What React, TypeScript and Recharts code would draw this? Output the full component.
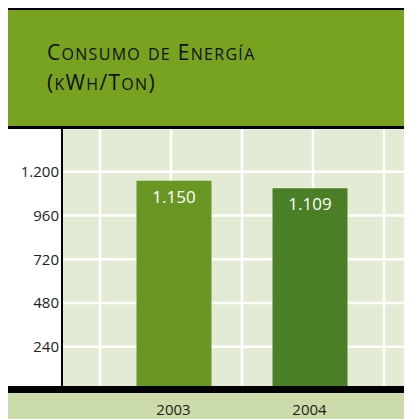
import { BarChart, Bar, XAxis, YAxis, CartesianGrid, Cell, LabelList } from 'recharts';

const years = ['2003', '2004'];
const consumo = [1150, 1109];
const barColors = ['#6a9724', '#4a7f26'];
const yTicks = [240, 480, 720, 960, 1200];

const fmt = (v: number) => String(v).replace(/\B(?=(\d{3})+(?!\d))/g, '.');

// fake small caps: capitals keep the full size, lower case is drawn as smaller capitals
function SmallCaps({ text }: { text: string }) {
  const parts = text.match(/[a-záéíóúñ]+|[^a-záéíóúñ]+/g) || [];
  return (
    <>
      {parts.map((p, i) =>
        /[a-záéíóúñ]/.test(p) ? (
          <span key={i} style={{ fontSize: 16 }}>{p.toUpperCase()}</span>
        ) : (
          <span key={i}>{p}</span>
        )
      )}
    </>
  );
}

export default function App() {
  const data = years.map((year, i) => ({ year, value: consumo[i] }));

  return (
    <div style={{ position: 'relative', width: 404, height: 411, overflow: 'hidden', fontFamily: '"Open Sans", sans-serif' }}>
      {/* label band under the axis */}
      <div style={{ position: 'absolute', left: 0, top: 385, width: 404, height: 26, background: '#cbdbaa' }} />

      <div style={{ position: 'absolute', left: 0, top: 118 }}>
        <BarChart width={404} height={293} data={data} margin={{ top: 2, right: 0, bottom: 0, left: 0 }}>
          <CartesianGrid
            fill="#e3ebd5"
            stroke="#ffffff"
            strokeWidth={2.5}
            verticalCoordinatesGenerator={({ offset }: any) => [0, 1, 2, 3, 4].map((k) => offset.left + 38 + 71 * k)}
          />
          <XAxis
            dataKey="year"
            axisLine={false}
            tickLine={false}
            tickSize={0}
            tickMargin={14}
            height={28.6}
            padding={{ left: 43.5, right: 34.5 }}
            tick={{ fill: '#222', fontSize: 15, fontFamily: '"Open Sans", sans-serif' }}
          />
          <YAxis
            domain={[0, 1440]}
            ticks={yTicks}
            width={54}
            tickFormatter={fmt}
            axisLine={{ stroke: '#000', strokeWidth: 2 }}
            tickLine={false}
            tickSize={0}
            tickMargin={3}
            tick={{ fill: '#222', fontSize: 15, fontFamily: '"Open Sans", sans-serif' }}
          />
          <Bar dataKey="value" barSize={75} isAnimationActive={false}>
            {data.map((d, i) => (
              <Cell key={d.year} fill={barColors[i]} />
            ))}
            <LabelList
              dataKey="value"
              position="insideTop"
              offset={10}
              formatter={(v: any) => fmt(Number(v))}
              style={{ fill: '#fff', fontSize: 17, fontFamily: '"Open Sans", sans-serif' }}
            />
          </Bar>
        </BarChart>
      </div>

      {/* black band over the baseline */}
      <div style={{ position: 'absolute', left: 0, top: 378, width: 404, height: 7, background: '#000' }} />

      {/* header */}
      <div
        style={{
          position: 'absolute',
          left: 0,
          top: 0,
          width: 404,
          height: 116,
          background: '#77a321',
          borderTop: '2px solid #000',
          borderBottom: '3px solid #000',
        }}
      >
        <div style={{ position: 'absolute', left: 39, top: 28, fontSize: 21, lineHeight: '28px', letterSpacing: 1.3, color: '#111', whiteSpace: 'nowrap' }}>
          <div><SmallCaps text="Consumo de Energía" /></div>
          <div><SmallCaps text="(kWh/Ton)" /></div>
        </div>
      </div>
    </div>
  );
}
